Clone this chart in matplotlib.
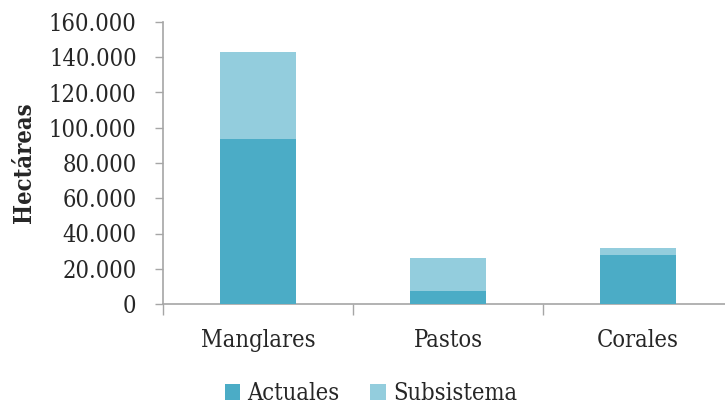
import matplotlib
matplotlib.use("Agg")
import matplotlib.pyplot as plt
from matplotlib.ticker import FuncFormatter, FixedLocator
import numpy as np

categories = ["Manglares", "Pastos", "Corales"]
actuales = [93600, 7200, 28000]
subsistema = [49200, 18700, 4000]
series_names = ["Actuales", "Subsistema"]
y_ticks = [0, 20000, 40000, 60000, 80000, 100000, 120000, 140000, 160000]

color_act = "#4BACC6"
color_sub = "#93CDDD"
axis_color = "#A6A6A6"
text_color = "#262626"

plt.rcParams["font.family"] = ["DejaVu Serif"]
plt.rcParams["font.stretch"] = "condensed"

fig = plt.figure(figsize=(7.25, 4.05), dpi=100)
ax = fig.add_axes([163 / 725, 101 / 405, 570 / 725, 282 / 405])

x = np.arange(len(categories))
b1 = ax.bar(x, actuales, width=0.4, color=color_act, label=series_names[0], zorder=3)
b2 = ax.bar(x, subsistema, width=0.4, bottom=actuales, color=color_sub, label=series_names[1], zorder=3)

ax.set_xlim(-0.5, 2.5)
ax.set_ylim(0, 160000)

ax.set_yticks(y_ticks)
ax.yaxis.set_major_formatter(FuncFormatter(lambda v, _: f"{int(v):,}".replace(",", ".")))
ax.tick_params(axis="y", direction="out", length=6, width=1, color=axis_color,
               labelsize=17, labelcolor=text_color, pad=13)

ax.set_xticks(x)
ax.set_xticklabels(categories)
ax.xaxis.set_minor_locator(FixedLocator([-0.5, 0.5, 1.5, 2.5]))
ax.tick_params(axis="x", which="major", length=0, labelsize=17, labelcolor=text_color, pad=18)
ax.tick_params(axis="x", which="minor", direction="out", length=8, width=1, color=axis_color)

for side in ["top", "right"]:
    ax.spines[side].set_visible(False)
for side in ["left", "bottom"]:
    ax.spines[side].set_color(axis_color)
    ax.spines[side].set_linewidth(1.2)

ax.set_ylabel("Hectáreas", fontsize=17, fontweight="bold", color=text_color)
ax.yaxis.set_label_coords(36 / 725, (405 - 163) / 405, transform=fig.transFigure)

fig.legend(handles=[b1, b2], labels=series_names, loc="center",
           bbox_to_anchor=(371 / 725, 1 - 394 / 405), ncol=2, frameon=False,
           fontsize=17, handlelength=0.65, handleheight=0.65, handletextpad=0.3,
           columnspacing=1.3, labelcolor=text_color)

fig.savefig("out.png", dpi=100)
